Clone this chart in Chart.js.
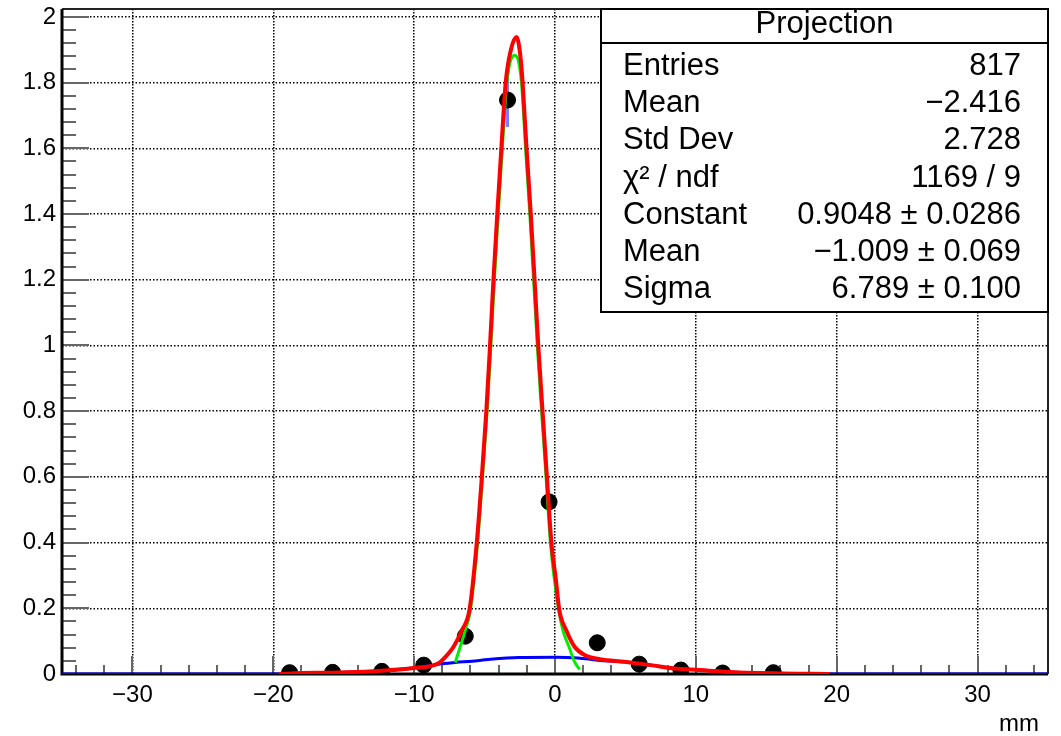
<!DOCTYPE html>
<html>
<head>
<meta charset="utf-8">
<title>Projection</title>
<script src="https://cdn.jsdelivr.net/npm/chart.js@4.4.1/dist/chart.umd.min.js"></script>
<style>
  html, body { margin: 0; padding: 0; background: #fff; }
  canvas { display: block; }
</style>
</head>
<body>
<canvas id="proj" width="1061" height="736"></canvas>
<script>
// histogram bins (centre, content)
const binX = [-18.84, -15.79, -12.29, -9.32, -6.37, -3.37, -0.42, 3.0, 5.98, 8.94, 11.9, 15.5];
const binY = [0.004, 0.005, 0.008, 0.027, 0.115, 1.747, 0.524, 0.095, 0.030, 0.012, 0.003, 0.004];
// the one error bar that shows (peak bin)
const errX = [-3.37, -3.37];
const errY = [1.665, 1.834];

// total fit (red)
const redX = [-19.6, -18, -15.8, -12.3, -9.9, -8.26, -7.78, -7.2, -6.61, -6.07, -5.56, -5.2, -4.88, -4.62, -4.37, -4.1, -3.81, -3.5, -3.13, -2.73,
  -2.45, -2.3, -2.02, -1.72, -1.45, -1.18, -0.88, -0.57, -0.25, 0.07, 0.3, 0.8, 1.39, 2.1, 3.2, 4.92, 6.8, 8.45, 10.3, 12, 15.5, 19.5];
const redY = [0, 0.003, 0.004, 0.010, 0.019, 0.033, 0.052, 0.083, 0.133, 0.196, 0.397, 0.597, 0.797, 0.995, 1.2, 1.4, 1.6, 1.8, 1.9, 1.939,
  1.878, 1.8, 1.6, 1.4, 1.2, 0.995, 0.797, 0.597, 0.397, 0.284, 0.196, 0.133, 0.083, 0.058, 0.045, 0.037, 0.027, 0.017, 0.012, 0.007, 0.002, 0];

// narrow gaussian (green)
const greenX = [-7.08, -6.73, -6.37, -6.0, -5.5, -5.15, -4.82, -4.56, -4.3, -4.03, -3.74, -3.42, -2.85,
  -2.38, -2.09, -1.79, -1.52, -1.25, -0.95, -0.63, -0.32, 0.26, 0.56, 0.99, 1.39, 1.74];
const greenY = [0.035, 0.083, 0.133, 0.196, 0.397, 0.597, 0.797, 0.995, 1.2, 1.4, 1.6, 1.8, 1.883,
  1.8, 1.6, 1.4, 1.2, 0.995, 0.797, 0.597, 0.397, 0.196, 0.133, 0.083, 0.037, 0.014];

// broad component (blue)
const blueX = [-35, -19.6, -15.8, -12.3, -9.9, -8.26, -7.08, -5.9, -4.73, -2.6, 0, 1.62, 3.03, 4.92, 6.8, 8.45, 10.3, 12, 15.5, 19.5, 35];
const blueY = [0, 0, 0.004, 0.010, 0.019, 0.030, 0.035, 0.039, 0.044, 0.050, 0.051, 0.049, 0.042, 0.037, 0.027, 0.017, 0.012, 0.007, 0.002, 0, 0];

const xTicks = [-30, -20, -10, 0, 10, 20, 30];
const yTicks = [0, 0.2, 0.4, 0.6, 0.8, 1, 1.2, 1.4, 1.6, 1.8, 2];

const statsTitle = 'Projection';
const statsLabels = ['Entries', 'Mean', 'Std Dev', 'χ² / ndf', 'Constant', 'Mean', 'Sigma'];
const statsValues = ['817', '\u22122.416', '2.728', '1169 / 9', '0.9048 \u00b1 0.0286', '\u22121.009 \u00b1 0.069', '6.789 \u00b1 0.100'];

const FONT = '"Liberation Sans", Arial, Helvetica, sans-serif';

function pts(xs, ys) {
  return xs.map((x, i) => ({ x: x, y: ys[i] }));
}

function curve(label, xs, ys, color, width, order) {
  return {
    type: 'line',
    label: label,
    data: pts(xs, ys),
    borderColor: color,
    borderWidth: width,
    borderJoinStyle: 'round',
    pointRadius: 0,
    fill: false,
    cubicInterpolationMode: 'monotone',
    order: order
  };
}

const rootFrame = {
  id: 'rootFrame',
  beforeDatasetsDraw(chart) {
    const { ctx, chartArea: a, scales: { x, y } } = chart;
    ctx.save();
    ctx.strokeStyle = '#666';
    ctx.lineWidth = 2;
    ctx.beginPath();
    // x ticks, every 2 mm
    for (let v = -34; v <= 34; v += 2) {
      const px = Math.round(x.getPixelForValue(v));
      const len = v % 10 === 0 ? 18 : 9;
      ctx.moveTo(px, a.bottom);
      ctx.lineTo(px, a.bottom - len);
    }
    // y ticks, every 0.04
    for (let k = 0; k <= 50; k++) {
      const py = Math.round(y.getPixelForValue(k * 0.04));
      const len = k % 5 === 0 ? 27 : 14;
      ctx.moveTo(a.left, py);
      ctx.lineTo(a.left + len, py);
    }
    ctx.stroke();

    // frame
    ctx.strokeStyle = '#222';
    ctx.lineWidth = 2;
    ctx.beginPath();
    ctx.moveTo(a.left, a.top);
    ctx.lineTo(a.right, a.top);
    ctx.lineTo(a.right, a.bottom);
    ctx.stroke();
    ctx.strokeStyle = '#000';
    ctx.lineWidth = 3;
    ctx.beginPath();
    ctx.moveTo(a.left, a.top);
    ctx.lineTo(a.left, a.bottom);
    ctx.lineTo(a.right, a.bottom);
    ctx.stroke();
    ctx.restore();
  },
  afterDatasetsDraw(chart) {
    const { ctx, chartArea: a } = chart;
    ctx.save();
    // stats box
    const bx = 601, by = a.top, bw = a.right - bx, bh = 303;
    ctx.fillStyle = '#fff';
    ctx.fillRect(bx, by, bw, bh);
    ctx.strokeStyle = '#000';
    ctx.lineWidth = 2;
    ctx.strokeRect(bx, by, bw, bh);
    ctx.beginPath();
    ctx.moveTo(bx, 43);
    ctx.lineTo(bx + bw, 43);
    ctx.stroke();

    ctx.fillStyle = '#000';
    ctx.font = '31px ' + FONT;
    ctx.textBaseline = 'alphabetic';
    ctx.textAlign = 'center';
    ctx.fillText(statsTitle, bx + bw / 2, 33);
    statsLabels.forEach((lab, i) => {
      const yy = 75 + i * 37.2;
      ctx.textAlign = 'left';
      ctx.fillText(lab, 623, yy);
      ctx.textAlign = 'right';
      ctx.fillText(statsValues[i], 1021, yy);
    });

    // axis title
    ctx.font = '24px ' + FONT;
    ctx.textAlign = 'right';
    ctx.fillText('mm', 1039, 731);
    ctx.restore();
  }
};

const tickFmt = v => {
  const r = Math.round(v * 10) / 10;
  return r < 0 ? '\u2212' + Math.abs(r) : String(r);
};

new Chart(document.getElementById('proj'), {
  type: 'scatter',
  data: {
    datasets: [
      curve('Total', redX, redY, '#ff0000', 4, 0),
      curve('Gaus', greenX, greenY, '#00ee00', 3, 1),
      curve('Background', blueX, blueY, '#0000ff', 3, 2),
      {
        type: 'scatter',
        label: 'Projection',
        data: pts(binX, binY),
        pointRadius: 8,
        pointHoverRadius: 8,
        backgroundColor: '#000',
        borderColor: '#000',
        order: 3
      },
      {
        type: 'line',
        label: 'err',
        data: pts(errX, errY),
        borderColor: '#7b7bff',
        borderWidth: 3,
        pointRadius: 0,
        order: 4
      }
    ]
  },
  options: {
    responsive: false,
    animation: false,
    devicePixelRatio: 1,
    layout: { padding: { left: 0, top: 5, right: 13, bottom: 0 } },
    plugins: {
      legend: { display: false },
      tooltip: { enabled: false }
    },
    scales: {
      x: {
        type: 'linear',
        min: -35,
        max: 35,
        afterBuildTicks: s => { s.ticks = xTicks.map(v => ({ value: v })); },
        afterFit: s => { s.height = 62; s.paddingLeft = 0; s.paddingRight = 0; },
        grid: { color: '#000', lineWidth: 1.5, drawTicks: false },
        border: { display: false, dash: [1.5, 1.5] },
        ticks: {
          padding: 7,
          maxRotation: 0,
          autoSkip: false,
          color: '#000',
          font: { family: FONT, size: 24 },
          callback: tickFmt
        }
      },
      y: {
        type: 'linear',
        min: 0,
        max: 2.024,
        afterBuildTicks: s => { s.ticks = yTicks.map(v => ({ value: v })); },
        afterFit: s => { s.width = 62; s.paddingTop = 0; s.paddingBottom = 0; },
        grid: { color: '#000', lineWidth: 1.5, drawTicks: false },
        border: { display: false, dash: [1.5, 2] },
        ticks: {
          padding: 6,
          autoSkip: false,
          color: '#000',
          font: { family: FONT, size: 24 },
          callback: tickFmt
        }
      }
    }
  },
  plugins: [rootFrame]
});
</script>
</body>
</html>
